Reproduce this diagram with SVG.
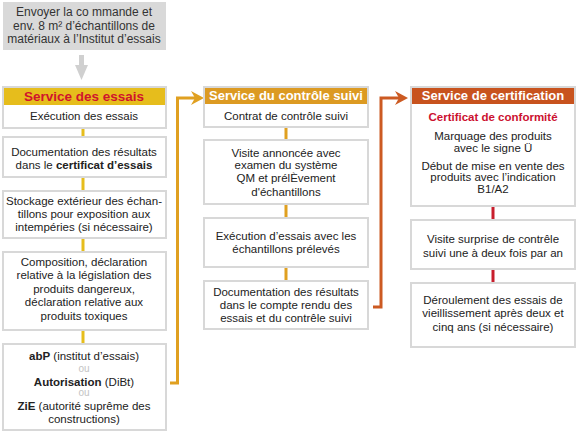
<svg xmlns="http://www.w3.org/2000/svg" width="577" height="432" viewBox="0 0 577 432">
<style>
text{font-family:"Liberation Sans",Arial,sans-serif;font-size:11.5px;fill:#222;text-anchor:middle}
.b{font-weight:bold}
.t{font-size:12px;fill:#333}
.h{font-size:13px;font-weight:bold;fill:#fff}
.hr{fill:#d0142c;font-size:13.5px}
.box{fill:#fff;stroke:#d8d8d8;stroke-width:2}
.ou{fill:#c4c4c4;font-size:10px}
.red{fill:#cc1030;font-weight:bold}
</style>
<rect width="577" height="432" fill="#fff"/>
<g id="start">
<rect x="3" y="2" width="163" height="48" fill="#d9d9d9"/>
<text class="t" x="84" y="16">Envoyer la co mmande et</text>
<text class="t" x="84" y="30">env.  8 m² d’échantillons de</text>
<text class="t" x="84" y="43">matériaux à l’Institut d’essais</text>
</g>
<g id="connectors">
<path d="M81.5,55 V68" stroke="#d0d0d0" stroke-width="5" fill="none"/>
<polygon points="75,65 88,65 81.5,80" fill="#d0d0d0"/>
<g stroke="#e6bd1c" stroke-width="3" fill="none">
<path d="M83,128 V137 M83,177 V191 M83,238 V252 M83,330 V344"/>
</g>
<g stroke="#e0a020" stroke-width="3" fill="none">
<path d="M286,127 V140 M286,204 V218 M286,267 V281"/>
<path d="M170,383 H177.5 V98 H196"/>
</g>
<polygon points="191,91 204,98 191,105 195,98" fill="#e0a020"/>
<path d="M373,307 H381 V98 H400" stroke="#cc5a22" stroke-width="3" fill="none"/>
<polygon points="395,91 408,98 395,105 399,98" fill="#cc5a22"/>
<path d="M493,206 V220 M493,269 V283" stroke="#c81e2d" stroke-width="3" fill="none"/>
</g>
<g id="essais">
<rect class="box" x="3" y="87" width="163" height="41"/>
<rect x="4" y="88" width="161" height="17" fill="#e6bd1c"/>
<text class="h hr" x="84" y="101">Service des essais</text>
<text x="84" y="120">Exécution des essais</text>
</g>
<g id="doc-certificat">
<rect class="box" x="3" y="137" width="163" height="40"/>
<text x="84" y="156">Documentation des résultats</text>
<text x="84" y="169">dans le <tspan class="b">certificat d’essais</tspan></text>
</g>
<g id="stockage">
<rect class="box" x="3" y="191" width="163" height="47"/>
<text x="84" y="205">Stockage extérieur des échan-</text>
<text x="84" y="218">tillons pour exposition aux</text>
<text x="84" y="231">intempéries (si nécessaire)</text>
</g>
<g id="composition">
<rect class="box" x="3" y="252" width="163" height="78"/>
<text x="84" y="266">Composition, déclaration</text>
<text x="84" y="279">relative à la législation des</text>
<text x="84" y="293">produits dangereux,</text>
<text x="84" y="306">déclaration relative aux</text>
<text x="84" y="320">produits toxiques</text>
</g>
<g id="autorisations">
<rect class="box" x="3" y="344" width="163" height="86"/>
<text x="84" y="360"><tspan class="b">abP</tspan> (institut d’essais)</text>
<text class="ou" x="84" y="372">ou</text>
<text x="84" y="386"><tspan class="b">Autorisation</tspan> (DiBt)</text>
<text class="ou" x="84" y="396">ou</text>
<text x="84" y="410"><tspan class="b">ZiE</tspan> (autorité suprême des</text>
<text x="84" y="423">constructions)</text>
</g>
<g id="controle">
<rect class="box" x="204" y="87" width="164" height="40"/>
<rect x="205" y="88" width="162" height="16" fill="#dc9a22"/>
<text class="h" x="286" y="100">Service du contrôle suivi</text>
<text x="286" y="120">Contrat de contrôle suivi</text>
</g>
<g id="visite-annoncee">
<rect class="box" x="204" y="140" width="164" height="64"/>
<text x="286" y="157">Visite annoncée avec</text>
<text x="286" y="169">examen du système</text>
<text x="286" y="182">QM et prélÈvement</text>
<text x="286" y="196">d'échantillons</text>
</g>
<g id="execution-prelevee">
<rect class="box" x="204" y="218" width="164" height="49"/>
<text x="286" y="240">Exécution d’essais avec les</text>
<text x="286" y="253">échantillons prélevés</text>
</g>
<g id="compte-rendu">
<rect class="box" x="204" y="281" width="164" height="48"/>
<text x="286" y="296">Documentation des résultats</text>
<text x="286" y="309">dans le compte rendu des</text>
<text x="286" y="322">essais et du contrêle suivi</text>
</g>
<g id="certification">
<rect class="box" x="411" y="87" width="164" height="119"/>
<rect x="412" y="88" width="162" height="16" fill="#c8531e"/>
<text class="h" x="493" y="100">Service de certification</text>
<text class="red" x="493" y="121">Certificat de conformité</text>
<text x="493" y="140">Marquage des produits</text>
<text x="493" y="152">avec le signe Ü</text>
<text x="493" y="170">Début de mise en vente des</text>
<text x="493" y="181">produits avec l’indication</text>
<text x="493" y="193">B1/A2</text>
</g>
<g id="visite-surprise">
<rect class="box" x="411" y="220" width="164" height="49"/>
<text x="493" y="243">Visite surprise de contrêle</text>
<text x="493" y="257">suivi une à deux fois par an</text>
</g>
<g id="vieillissement">
<rect class="box" x="411" y="283" width="164" height="64"/>
<text x="493" y="304">Déroulement des essais de</text>
<text x="493" y="317">vieillissement après deux et</text>
<text x="493" y="331">cinq ans (si nécessaire)</text>
</g>
</svg>
